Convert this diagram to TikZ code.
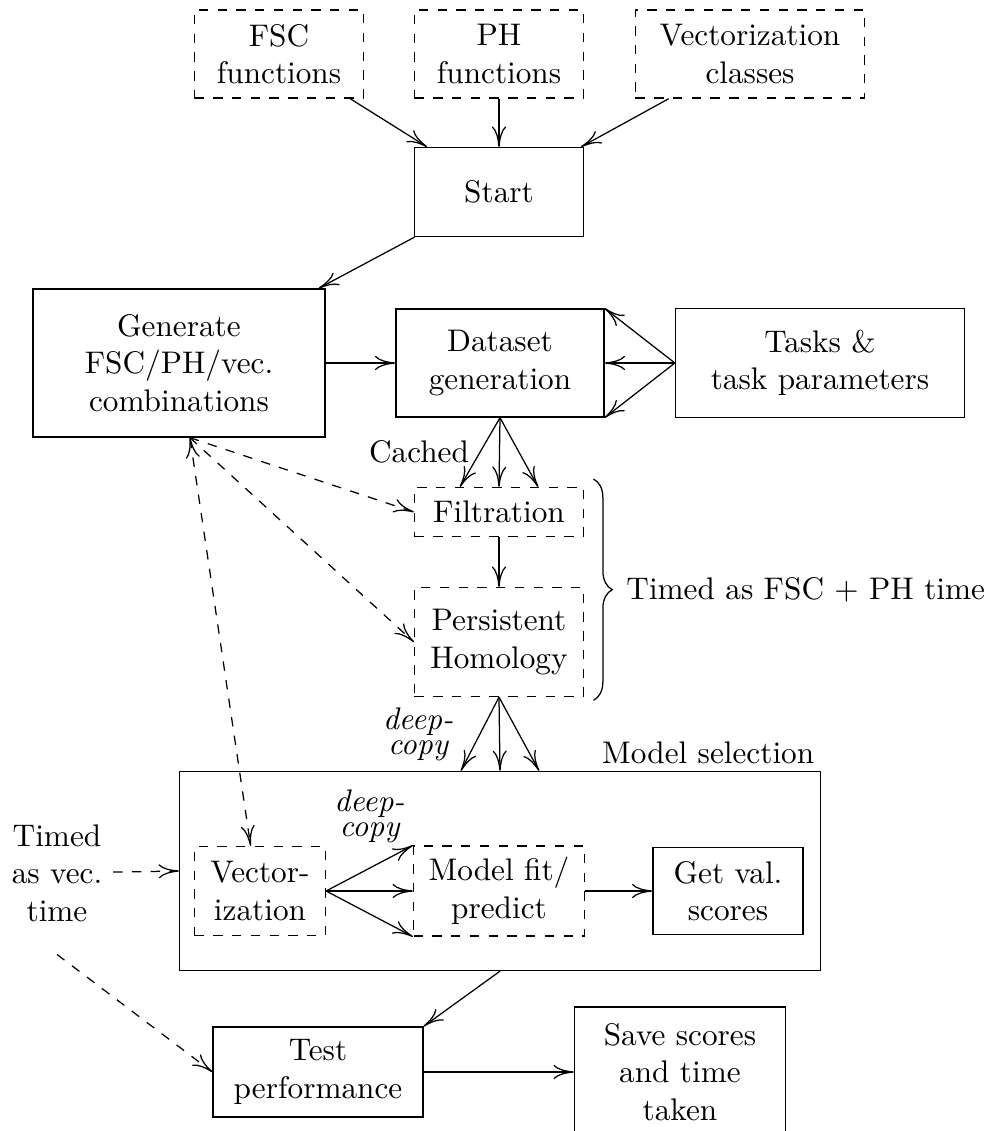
\documentclass[tikz,border=0pt]{standalone}
\usepackage{tikz}
\usetikzlibrary{positioning}
\usetikzlibrary{arrows.meta,shapes}
\usetikzlibrary{calc}
\usetikzlibrary{decorations.pathreplacing}
\tikzstyle{block}=[rectangle,draw,align=center,inner sep=0pt]
\tikzstyle{dblock}=[block,dashed]
\tikzstyle{edge} = [draw,->]
\tikzstyle{dedge} = [draw,dashed,->]
\tikzstyle{weight} = [font=\itshape,align=center]

\begin{document}
\begin{tikzpicture}[x=0.32pt,y=-0.32pt,>={To[length=6.5pt,width=4.5pt]}]

  \useasboundingbox (0,0) rectangle (984,1131);

  % inputs
  \foreach \x/\y/\w/\name/\label in {279/54/54.1pt/fsc/{FSC\\functions}, 499/54/54.1pt/phf/{PH\\functions}, 750/54/73.3pt/vecc/{Vectorization\\classes}}
     \node[dblock, minimum width=\w, minimum height=28.2pt] (\name) at (\x,\y) {\label};

  \node[block, minimum width=54.1pt, minimum height=28.5pt] (start) at (499,192) {Start};
  \node[block, minimum width=93.4pt, minimum height=47.4pt] (gen) at (179,363) {Generate\\FSC/PH/vec.\\combinations};
  \node[block, minimum width=66.6pt, minimum height=34.6pt] (data) at (500,363) {Dataset\\generation};
  \node[block, minimum width=92.5pt, minimum height=34.9pt] (tasks) at (820,363) {Tasks \&\\task parameters};

  % FSC + PH
  \node[dblock, minimum width=54.1pt, minimum height=15.7pt] (filt) at (499,512) {Filtration};
  \node[dblock, minimum width=54.1pt, minimum height=34.9pt] (ph) at (499,642) {Persistent\\Homology};

  % model selection
  \node[block, minimum width=205.1pt, minimum height=63.7pt] (modsel) at (500,871) {};
  \node[anchor=south east, inner sep=2pt] (mslabel) at (modsel.north east) {Model selection};
  \node[dblock, minimum width=41.9pt, minimum height=28.5pt] (vect) at (260,891) {Vector-\\ization};
  \node[dblock, minimum width=54.7pt, minimum height=28.8pt] (fit) at (499,891) {Model fit/\\predict};
  \node[block, minimum width=48pt, minimum height=27.8pt] (val) at (728,891) {Get val.\\scores};

  \node[block, minimum width=67.2pt, minimum height=28.8pt] (test) at (318,1072) {Test\\performance};
  \node[block, minimum width=67.5pt, minimum height=41.6pt] (save) at (680,1072) {Save scores\\and time\\taken};

  \node[align=center] (tvec) at (57,873) {Timed\\as vec.\\time};

  \foreach \source/\dest in {fsc/start, phf/start, vecc/start, start/gen, gen/data, filt/ph, fit/val, test/save}
     \path[edge] (\source) -- (\dest);

  \foreach \a in {north east, east, south east}
     \path[edge] (tasks.west) -- (data.\a);

  \path[edge] (data.south) -- node[midway,left] {Cached} ([xshift=-12.5pt]filt.north);
  \path[edge] (data.south) -- (filt.north);
  \path[edge] (data.south) -- ([xshift=12.5pt]filt.north);

  \path[edge] (ph.south) -- node[midway,left,weight,xshift=-5pt] {deep-\\[-4pt]copy} ([xshift=-12.5pt]modsel.north);
  \path[edge] (ph.south) -- (modsel.north);
  \path[edge] (ph.south) -- ([xshift=12.5pt]modsel.north);

  \path[edge] (vect.east) -- node[midway,above,weight,yshift=4.5pt] {deep-\\[-4pt]copy} (fit.north west);
  \path[edge] (vect.east) -- (fit.west);
  \path[edge] (vect.east) -- (fit.south west);

  \path[edge] (modsel.south) -- (test.north east);

  % timing
  \coordinate (gs) at ([xshift=3.5pt]gen.south);
  \path[dedge] (gs) -- (filt.west);
  \path[dedge] (gs) -- (ph.west);
  \path[dedge,<->] (gs) -- ([xshift=-3pt]vect.north);
  \path[dedge] (tvec) -- (modsel.west);
  \path[dedge] ([yshift=-7pt]tvec.south) -- (test.west);

  \draw[decorate,decoration={brace,amplitude=6pt}] ([shift={(3pt,2.5pt)}]filt.north east) -- node[midway,right=7pt] {Timed as FSC $+$ PH time} ([shift={(3pt,-1pt)}]ph.south east);

\end{tikzpicture}
\end{document}
